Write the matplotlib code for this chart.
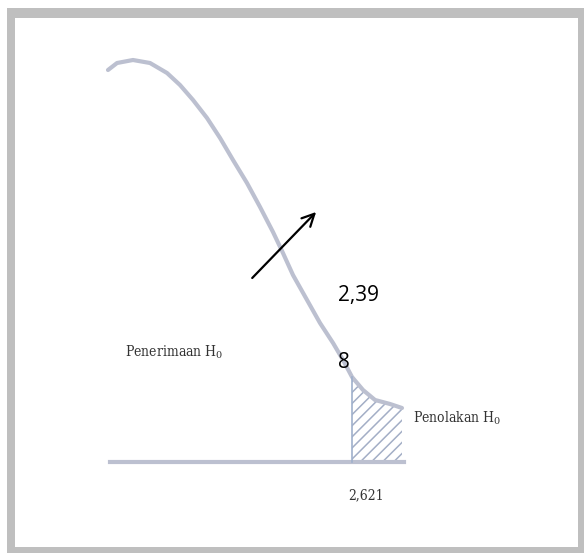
import numpy as np
import matplotlib.pyplot as plt
from matplotlib.patches import Rectangle

# curve points (t value, relative height)
curve_t = [-0.260, -0.153, 0.035, 0.236, 0.437, 0.590, 0.744, 0.909, 1.063,
           1.216, 1.381, 1.535, 1.688, 1.795, 1.924, 2.090, 2.243, 2.397,
           2.515, 2.621, 2.751, 2.893, 3.070, 3.211]
curve_h = [0.98, 0.9975, 1.005, 0.9975, 0.9725, 0.9425, 0.905, 0.86, 0.81,
           0.755, 0.6975, 0.6375, 0.575, 0.5275, 0.4675, 0.405, 0.3475, 0.2975,
           0.255, 0.2125, 0.18, 0.155, 0.145, 0.135]
t_crit = 2.621
t_stat_label = "2,398"
base_t = [-0.24, 3.24]
label_accept = "Penerimaan H$_0$"
label_reject = "Penolakan H$_0$"

plt.rcParams['hatch.linewidth'] = 1.1
plt.rcParams['mathtext.fontset'] = 'dejavuserif'

fig = plt.figure(figsize=(5.84, 5.53), dpi=100)

# grey frame
fig.patches.append(Rectangle((7/584, 0), 577/584, 545/553, transform=fig.transFigure,
                             facecolor='#bfbfbf', edgecolor='none', zorder=-2))
fig.patches.append(Rectangle((15/584, 6/553), 563/584, 529/553, transform=fig.transFigure,
                             facecolor='white', edgecolor='none', zorder=-1))

ax = fig.add_axes([0, 0, 1, 1])
ax.set_zorder(1)
ax.patch.set_visible(False)
ax.set_xlim(-1.535, 5.36)
ax.set_ylim(-0.2275, 1.155)
ax.axis('off')

line_col = '#bcc0d0'
ax.plot(curve_t, curve_h, color=line_col, lw=3, solid_capstyle='round', solid_joinstyle='round')
ax.plot(base_t, [0, 0], color=line_col, lw=3)

# rejection region
rt = [t for t in curve_t if t >= t_crit]
rh = [h for t, h in zip(curve_t, curve_h) if t >= t_crit]
ax.fill_between(rt, 0, rh, facecolor='none', edgecolor='#a3aec6', hatch='///', lw=0)
ax.plot([t_crit, t_crit], [0, curve_h[curve_t.index(t_crit)]], color='#9fb0cc', lw=1.2)

serif = dict(family='DejaVu Serif', stretch='condensed', color='#333333', fontsize=10)
ax.text(-0.06, 0.275, label_accept, ha='left', va='center', **serif)
ax.text(3.34, 0.11, label_reject, ha='left', va='center', **serif)
ax.text(2.79, -0.0825, "2,621", ha='center', va='center', **serif)

ax.text(2.456, 0.4175, t_stat_label[:4], ha='left', va='center', family='Open Sans', fontsize=15, color='black')
ax.text(2.456, 0.25, t_stat_label[4:], ha='left', va='center', family='Open Sans', fontsize=15, color='black')

ax.annotate('', xy=(2.22, 0.63), xytext=(1.42, 0.455),
            arrowprops=dict(arrowstyle='->', color='black', lw=1.6, mutation_scale=22))

fig.savefig('out.png', dpi=100)
